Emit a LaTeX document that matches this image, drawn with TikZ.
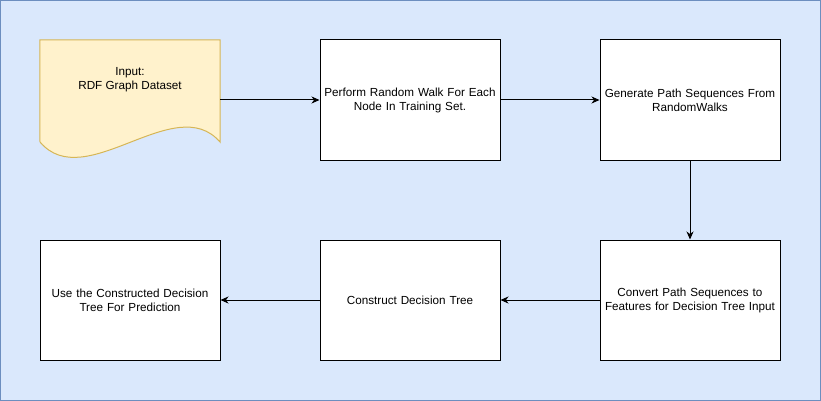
\documentclass[tikz,border=0pt]{standalone}
\usepackage{fontspec}
\setmainfont{Liberation Sans}
\usetikzlibrary{arrows.meta}
\definecolor{bgfill}{HTML}{DAE8FC}
\definecolor{bgline}{HTML}{6C8EBF}
\definecolor{docfill}{HTML}{FFF2CC}
\definecolor{docline}{HTML}{D6B656}
\tikzset{
  stepbox/.style={draw=black, fill=white, line width=1pt, minimum width=180pt,
    minimum height=120pt, align=center, text width=176pt, inner sep=0pt,
    font=\fontsize{11.7}{14}\selectfont},
  flow/.style={line width=1pt, -{Stealth[length=8pt,width=7pt,inset=2.5pt]}}
}
\begin{document}
\begin{tikzpicture}[x=1pt,y=-1pt]
    \useasboundingbox (0,0) rectangle (821,401);
    \draw[fill=bgfill, draw=bgline, line width=1pt] (0.5,0.5) rectangle (820.5,400.5);
    % input document
    \node[minimum width=180pt, minimum height=120pt, inner sep=0pt] (input) at (130,100) {};
    \draw[fill=docfill, draw=docline, line width=1pt] (input.north west) -- (input.north east)
      -- (220,142) .. controls (175,90) and (85,195) .. (40,142) -- cycle;
    \node[align=center, font=\fontsize{11.7}{14}\selectfont] (inputlbl) at (130,80) {Input:\\RDF Graph Dataset};
    \node[stepbox] (walk) at (410,100) {Perform Random Walk For Each\\Node In Training Set.};
    \node[stepbox] (paths) at (690,100) {Generate Path Sequences From\\RandomWalks};
    \node[stepbox] (convert) at (690,300) {Convert Path Sequences to\\Features for Decision Tree Input};
    \node[stepbox] (tree) at (410,300) {Construct Decision Tree};
    \node[stepbox] (predict) at (130,300) {Use the Constructed Decision\\Tree For Prediction};
    \draw[flow] (input.east) -- (walk.west);
    \draw[flow] (walk.east) -- (paths.west);
    \draw[flow] (paths.south) -- (convert.north);
    \draw[flow] (convert.west) -- (tree.east);
    \draw[flow] (tree.west) -- (predict.east);
\end{tikzpicture}
\end{document}
